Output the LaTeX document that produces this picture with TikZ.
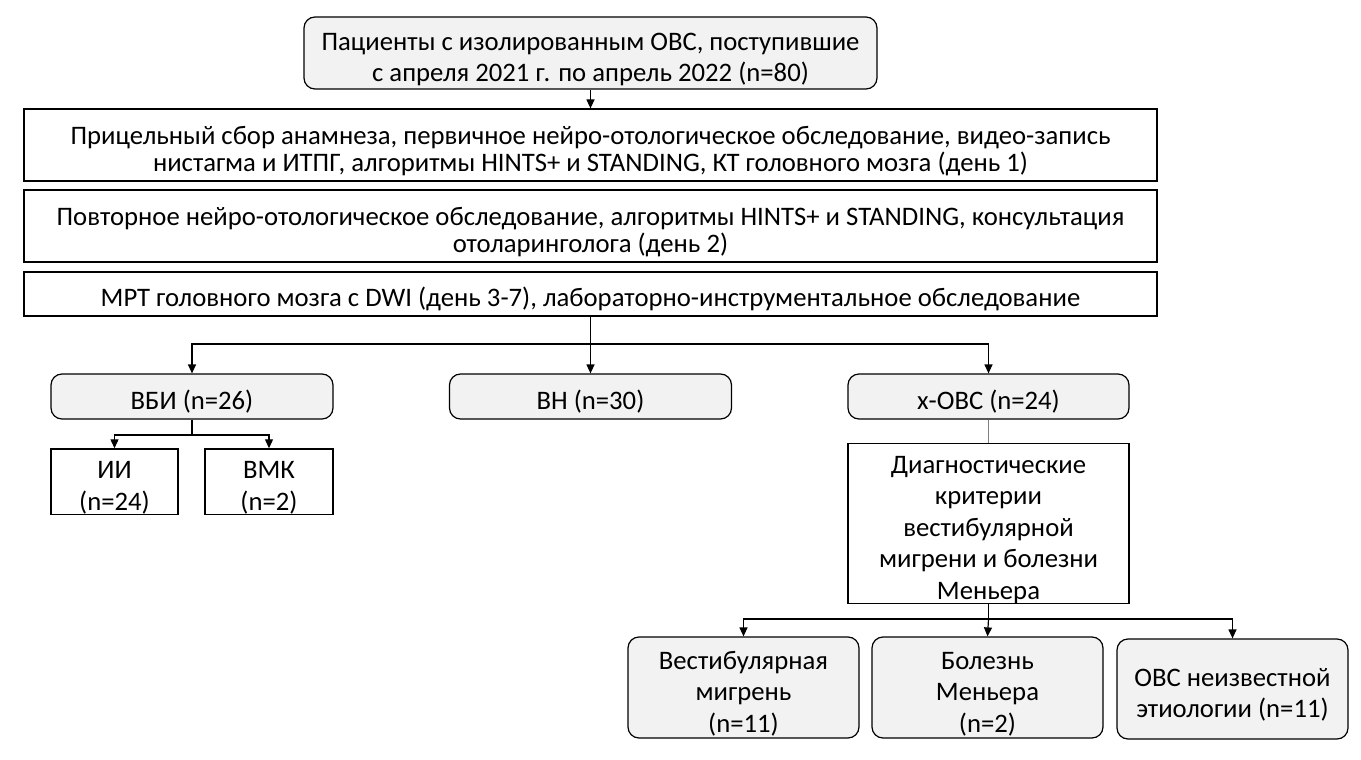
\documentclass[tikz,border=0pt]{standalone}
\usepackage{fontspec}
\setmainfont{Carlito}
\usetikzlibrary{arrows.meta}
\definecolor{boxgray}{HTML}{F2F2F2}
\newcommand{\tstrut}{\rule{0pt}{30pt}}
\tikzset{
  base/.style={draw=black, line width=1.2pt, inner sep=0pt, align=center,
    font=\fontsize{26.7}{31.5}\selectfont},
  tight/.style={font=\fontsize{26.7}{27.5}\selectfont},
  gbox/.style={base, fill=boxgray, rounded corners=11pt},
  wbox/.style={base, fill=white},
  arr/.style={line width=1.2pt, -{Triangle[length=9pt,width=8pt]}},
  ln/.style={line width=1.2pt},
}
\begin{document}
\begin{tikzpicture}[x=1pt,y=-1pt]
\useasboundingbox (0,0) rectangle (1361,760);
\node[gbox, minimum width=573pt, minimum height=72pt] (top) at (590.5,53)
  {\tstrut Пациенты с изолированным ОВС, поступившие\\с апреля 2021 г. по апрель 2022 (n=80)};
\node[wbox, tight, minimum width=1133pt, minimum height=72pt] (b2) at (590.5,145)
  {\tstrut Прицельный сбор анамнеза, первичное нейро-отологическое обследование, видео-запись\\нистагма и ИТПГ, алгоритмы HINTS+ и STANDING, КТ головного мозга (день 1)};
\node[wbox, tight, minimum width=1133pt, minimum height=72pt] (b3) at (590.5,226)
  {\tstrut Повторное нейро-отологическое обследование, алгоритмы HINTS+ и STANDING, консультация\\отоларинголога (день 2)};
\node[wbox, minimum width=1133pt, minimum height=44pt] (b4) at (590.5,294)
  {\tstrut МРТ головного мозга с DWI (день 3-7), лабораторно-инструментальное обследование};
\node[gbox, minimum width=282pt, minimum height=45pt] (vbi) at (192,396.5) {\tstrut ВБИ (n=26)};
\node[gbox, minimum width=282pt, minimum height=45pt] (vn) at (590.5,396.5) {\tstrut ВН (n=30)};
\node[gbox, minimum width=281pt, minimum height=45pt] (xovs) at (988.5,396.5) {\tstrut х-ОВС (n=24)};
\node[wbox, minimum width=127pt, minimum height=59pt] (ii) at (114.5,481.5) {\tstrut ИИ\\(n=24)};
\node[wbox, minimum width=128pt, minimum height=59pt] (vmk) at (269,481.5) {\tstrut ВМК\\(n=2)};
\node[wbox, minimum width=281pt, minimum height=153pt] (diag) at (988.5,523.5)
  {\tstrut Диагностические\\критерии\\вестибулярной\\мигрени и болезни\\Меньера};
\node[gbox, minimum width=231pt, minimum height=101pt] (vm) at (743.5,687.5)
  {\tstrut Вестибулярная\\мигрень\\(n=11)};
\node[gbox, minimum width=231pt, minimum height=101pt] (bm) at (987.5,687.5)
  {\tstrut Болезнь\\Меньера\\(n=2)};
\node[gbox, minimum width=231pt, minimum height=100pt] (ovs) at (1232.5,689)
  {\tstrut ОВС неизвестной\\этиологии (n=11)};
\coordinate (j1) at (590.5,344);
\coordinate (j2) at (192,435);
\coordinate (j3) at (988.5,619);
\draw[arr] (top.south) -- (b2.north);
\draw[ln] (b4.south) -- (j1);
\draw[arr] (j1) -| (vbi.north);
\draw[arr] (j1) -| (xovs.north);
\draw[arr] (j1) -- (vn.north);
\draw[ln] (vbi.south) -- (j2);
\draw[arr] (j2) -| (ii.north);
\draw[arr] (j2) -| (vmk.north);
\draw[line width=1.2pt, draw=gray] (xovs.south) -- (diag.north);
\draw[ln] (diag.south) -- (j3);
\draw[arr] (j3) -| (vm.north);
\draw[arr] (j3) -| (ovs.north);
\draw[arr] (j3) -- (bm.north);
\end{tikzpicture}
\end{document}
